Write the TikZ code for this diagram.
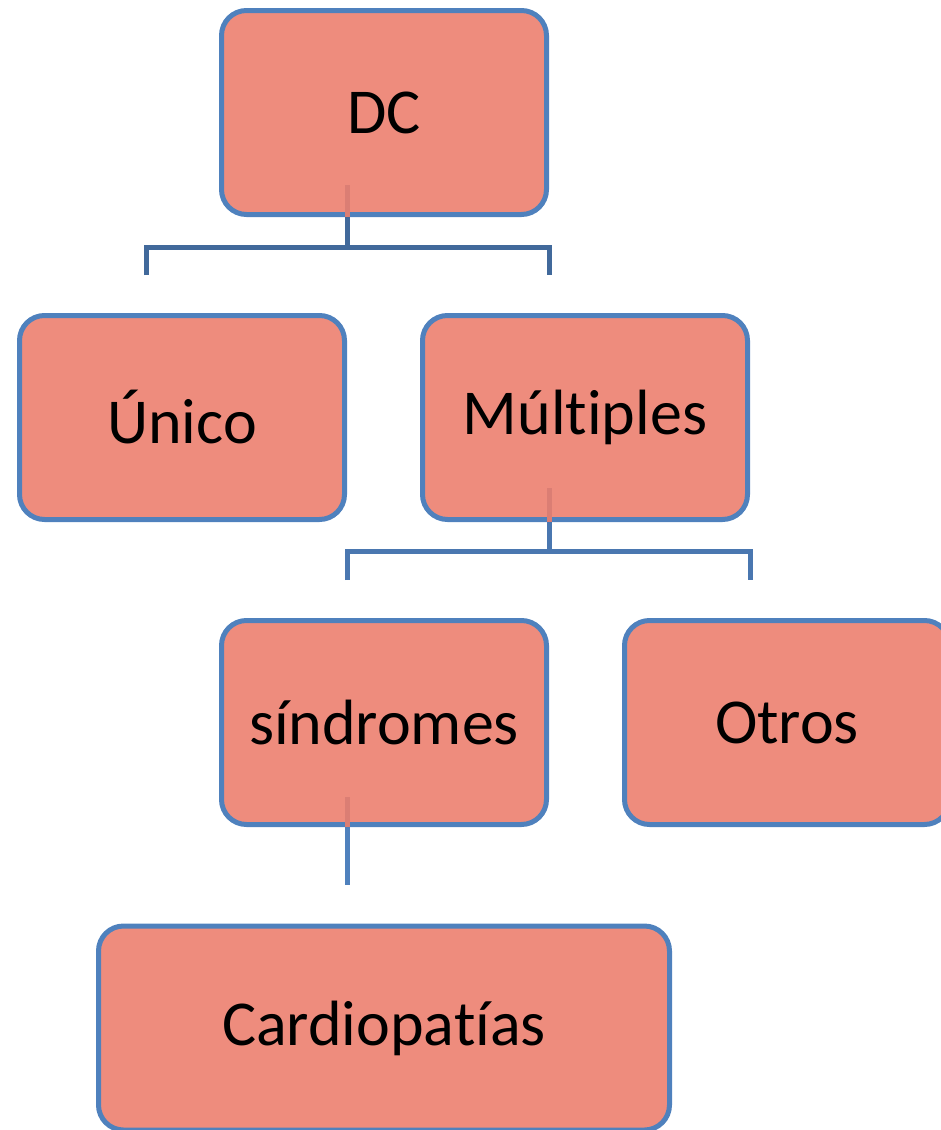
\documentclass[tikz,border=0pt]{standalone}
\usepackage{fontspec}
\setmainfont{Carlito}[Ligatures={NoCommon,NoRequired,NoContextual}]
\usetikzlibrary{calc}
\definecolor{boxfill}{HTML}{EE8C7D}
\definecolor{boxline}{HTML}{4F81BD}
\definecolor{linkA}{HTML}{41699B}
\definecolor{linkB}{HTML}{4A77B0}
\definecolor{linkC}{HTML}{4F81BD}
\definecolor{linkin}{HTML}{DB7E74}
\begin{document}
\begin{tikzpicture}[x=1pt,y=1pt,
  box/.style={draw=boxline, fill=boxfill, line width=5pt, rounded corners=25pt,
    minimum width=325pt, minimum height=204pt, inner sep=0pt,
    font=\fontsize{64}{77}\selectfont, text=black},
  link/.style={line width=5pt, line join=miter, line cap=butt},
  stub/.style={line width=5pt, draw=linkin, line cap=butt}]
\useasboundingbox (0,0) rectangle (940,-1130);

% boxes
\node[box] (dc)    at (384,-112.5)  {DC};
\node[box] (unico) at (182,-417.5)  {Único};
\node[box] (mult)  at (585,-417.5)  {Múltiples};
\node[box] (sind)  at (384,-722.5)  {síndromes};
\node[box] (otros) at (787,-722.5)  {Otros};
\node[box, minimum width=571pt] (card) at (384,-1028) {Cardiopatías};

% junction points and open ends of the brackets
\coordinate (j1) at (347,-247);
\coordinate (e1a) at (146,-275);
\coordinate (e1b) at (549,-275);
\coordinate (j2) at (549,-551);
\coordinate (e2a) at (347,-580);
\coordinate (e2b) at (750,-580);
\coordinate (e3) at (347,-885);

% DC -> Único / Múltiples
\draw[stub] ($(j1 |- dc.south)+(0,32)$) -- (j1 |- dc.south);
\draw[link, draw=linkA] (j1 |- dc.south) -- (j1);
\draw[link, draw=linkA] (e1a) -- (e1a |- j1) -- (e1b |- j1) -- (e1b);

% Múltiples -> síndromes / Otros
\draw[stub] ($(j2 |- mult.south)+(0,34)$) -- (j2 |- mult.south);
\draw[link, draw=linkB] (j2 |- mult.south) -- (j2);
\draw[link, draw=linkB] (e2a) -- (e2a |- j2) -- (e2b |- j2) -- (e2b);

% síndromes -> Cardiopatías
\draw[stub] ($(e3 |- sind.south)+(0,30)$) -- (e3 |- sind.south);
\draw[link, draw=linkC] (e3 |- sind.south) -- (e3);
\end{tikzpicture}
\end{document}
